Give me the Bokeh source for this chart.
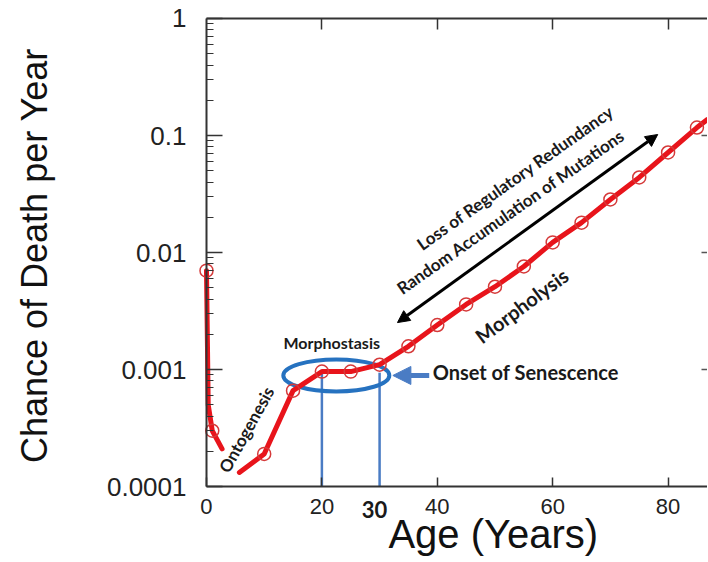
import math
from bokeh.plotting import figure
from bokeh.models import (Range1d, LogAxis, LinearAxis, FixedTicker, CustomJSTickFormatter,
                          Label, Arrow, NormalHead)
from bokeh.embed import file_html
from bokeh.resources import INLINE

# ---- data ----
marker_age = [0, 1, 10, 15, 20, 25, 30, 35, 40, 45, 50, 55, 60, 65, 70, 75, 80, 85]
marker_rate = [0.007, 0.0003, 0.00019, 0.00066, 0.00096, 0.00096, 0.0011, 0.00158, 0.0024,
               0.0036, 0.0051, 0.0076, 0.0122, 0.018, 0.0284, 0.0438, 0.0716, 0.117]
infant_age = [0, 0.3, 1, 2.7]
infant_rate = [0.007, 0.0005, 0.0003, 0.00021]
adult_age = [5.7, 10, 15, 20, 25, 30, 35, 40, 45, 50, 55, 60, 65, 70, 75, 80, 85, 86.8]
adult_rate = [0.000132, 0.00019, 0.00066, 0.00096, 0.00096, 0.0011, 0.00158, 0.0024, 0.0036,
              0.0051, 0.0076, 0.0122, 0.018, 0.0284, 0.0438, 0.0716, 0.117, 0.137]
x_ticks = [0, 20, 40, 60, 80]
y_ticks = [0.0001, 0.001, 0.01, 0.1, 1]
y_minor = [m * d for d in [0.0001, 0.001, 0.01, 0.1] for m in range(2, 10)]
senescence_ages = [20, 30]

X_MIN, X_MAX = 0, 86.83          # plotted age span (axis bounds)
Y_MIN, Y_MAX = 1e-4, 1.0         # plotted rate span (axis bounds)

RED = "#e8141b"
BLUE = "#4a7cc4"
ELL = "#2672c0"
TXT = "#1a1a1a"
AXC = "#333333"
AFONT = "Lato"

# the frame covers the whole canvas; axes are pinned at data locations
p = figure(width=707, height=560, x_range=Range1d(-35.70, X_MAX),
           y_range=Range1d(10 ** -4.632, 10 ** 0.1538),
           y_axis_type="log", output_backend="svg", toolbar_location=None,
           min_border=0)
p.outline_line_color = None
p.grid.visible = False
p.background_fill_color = "white"
p.border_fill_color = "white"

# left axis
ya = p.yaxis[0]
ya.fixed_location = X_MIN
ya.bounds = (Y_MIN, Y_MAX)
ya.ticker = FixedTicker(ticks=y_ticks, minor_ticks=y_minor)
ya.formatter = CustomJSTickFormatter(code="return tick.toString();")
ya.major_tick_in = 16
ya.major_tick_out = 0
ya.minor_tick_in = 7
ya.minor_tick_out = 0
ya.axis_line_width = 2
ya.axis_line_color = AXC
ya.major_tick_line_color = AXC
ya.minor_tick_line_color = AXC
ya.major_tick_line_width = 1.5
ya.major_label_text_font = "Liberation Sans"
ya.major_label_text_font_size = "26px"
ya.major_label_text_color = "#222222"
ya.major_label_standoff = 20

# bottom axis
xa = p.xaxis[0]
xa.fixed_location = Y_MIN
xa.bounds = (X_MIN, X_MAX)
xa.ticker = FixedTicker(ticks=x_ticks)
xa.major_tick_in = 9
xa.major_tick_out = 0
xa.minor_tick_line_color = None
xa.axis_line_width = 2
xa.axis_line_color = AXC
xa.major_tick_line_color = AXC
xa.major_tick_line_width = 1.5
xa.major_label_text_font = "Liberation Sans"
xa.major_label_text_font_size = "22px"
xa.major_label_text_color = "#222222"
xa.major_label_standoff = 12

# top border axis with ticks (labels hidden)
ta = LinearAxis(ticker=FixedTicker(ticks=x_ticks[1:]), fixed_location=Y_MAX,
                bounds=(X_MIN, X_MAX), major_label_text_font_size="1px",
                major_label_text_color=None,
                major_label_standoff=0, major_tick_in=11, major_tick_out=0,
                minor_tick_line_color=None, axis_line_width=2, axis_line_color=AXC,
                major_tick_line_color=AXC, major_tick_line_width=1.5)
p.add_layout(ta, "above")

# right axis (only its ticks show at the edge)
ra = LogAxis(ticker=FixedTicker(ticks=y_ticks[1:4]), fixed_location=X_MAX,
             bounds=(Y_MIN, Y_MAX), major_label_text_font_size="1px",
             major_label_text_color=None,
             major_label_standoff=0, major_tick_in=6, major_tick_out=0,
             minor_tick_line_color=None, axis_line_color=None,
             major_tick_line_color="#555555", major_tick_line_width=1.5)
p.add_layout(ra, "right")

# senescence markers
p.segment(x0=senescence_ages, y0=[Y_MIN, Y_MIN], x1=senescence_ages, y1=[0.00096, 0.00094],
          line_color=BLUE, line_width=2.5)
p.ellipse(x=22.5, y=0.00089, width=106, height=32, width_units="screen",
          height_units="screen", fill_color=None, line_color=ELL, line_width=4)

# curve
p.line(infant_age, infant_rate, line_color=RED, line_width=5, line_join="round", line_cap="round")
p.line(adult_age, adult_rate, line_color=RED, line_width=5, line_join="round", line_cap="round")
p.scatter(marker_age, marker_rate, marker="circle", size=13, fill_color=None,
          line_color="#d53a3a", line_width=1.5)

# arrows
p.add_layout(Arrow(x_start=33.1, y_start=0.00252, x_end=78.2, y_end=0.102, line_width=3,
                   line_color="black",
                   start=NormalHead(size=12, fill_color="black", line_color="black"),
                   end=NormalHead(size=12, fill_color="black", line_color="black")))
p.add_layout(Arrow(x_start=38.6, y_start=0.00089, x_end=32.3, y_end=0.00089, line_width=5,
                   line_color=BLUE,
                   end=NormalHead(size=18, fill_color=BLUE, line_color=BLUE)))

def lab(text, x, y, size, angle=0.0, align="center", font=AFONT, style="bold", color=TXT):
    p.add_layout(Label(x=x, y=y, text=text, text_font=font, text_font_size=size,
                       text_font_style=style, text_color=color, text_align=align,
                       text_baseline="middle", angle=angle))

lab("Morphostasis", 21.7, 10 ** -2.769, "16px")
lab("Onset of Senescence", 39.2, 10 ** -3.017, "20px", align="left")
lab("Ontogenesis", 6.9, 10 ** -3.513, "17px", angle=math.radians(61))
lab("Loss of Regulatory Redundancy", 53.5, 10 ** -1.359, "17px", angle=math.radians(35.3))
lab("Random Accumulation of Mutations", 52.7, 10 ** -1.650, "17px", angle=math.radians(35.0))
lab("Morpholysis", 54.6, 10 ** -2.453, "20px", angle=math.radians(36.7))
lab("30", 29.1, 10 ** -4.197, "22px")
lab("Age (Years)", 49.7, 10 ** -4.402, "40px", font="Liberation Sans", style="normal",
    color="#111111")
lab("Chance of Death per Year", -29.8, 10 ** -2.026, "36px", angle=math.pi / 2,
    font="Liberation Sans", style="normal", color="#111111")

open("out.html", "w").write(file_html(p, INLINE))
